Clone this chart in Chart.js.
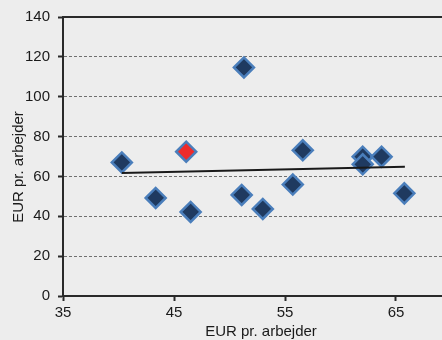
<!DOCTYPE html>
<html>
<head>
<meta charset="utf-8">
<script src="https://cdn.jsdelivr.net/npm/chart.js@4/dist/chart.umd.min.js"></script>
<style>
html,body{margin:0;padding:0;background:#ededed;overflow:hidden;}
#wrap{width:442px;height:340px;}
</style>
</head>
<body>
<div id="wrap"><canvas id="c" width="442" height="340"></canvas></div>
<script>
// Data
const xValues = [40.3, 43.35, 46.5, 51.1, 51.3, 53.0, 55.7, 56.6, 62.0, 62.0, 63.7, 65.75];
const yValues = [67.0, 49.2, 42.2, 50.7, 114.7, 43.7, 55.9, 73.1, 69.9, 66.1, 69.9, 51.5];
const highlightX = [46.1];
const highlightY = [72.4];
const trendX = [40.3, 65.8];
const trendY = [61.7, 64.9];
const xTicks = [35, 45, 55, 65];
const yTicks = [0, 20, 40, 60, 80, 100, 120, 140];
const xTitle = 'EUR pr. arbejder';
const yTitle = 'EUR pr. arbejder';

const toPts = (xs, ys) => xs.map((x, i) => ({x: x, y: ys[i]}));
const FONT = '"Liberation Sans", Arial, sans-serif';

const extras = {
  id: 'extras',
  afterDraw(chart) {
    const {ctx, chartArea} = chart;
    ctx.save();
    ctx.strokeStyle = '#2a2a2a';
    ctx.lineWidth = 2;
    ctx.beginPath();
    ctx.moveTo(chartArea.left - 1, chartArea.top);
    ctx.lineTo(chartArea.right, chartArea.top);
    ctx.stroke();
    ctx.fillStyle = '#1a1a1a';
    ctx.font = '15px ' + FONT;
    ctx.textAlign = 'center';
    ctx.textBaseline = 'alphabetic';
    ctx.fillText(xTitle, 261, 336);
    ctx.translate(23, 167);
    ctx.rotate(-Math.PI / 2);
    ctx.fillText(yTitle, 0, 0);
    ctx.restore();
  }
};

new Chart(document.getElementById('c'), {
  type: 'scatter',
  data: {
    datasets: [
      {
        type: 'line',
        data: toPts(trendX, trendY),
        borderColor: '#1a1a1a',
        borderWidth: 2,
        pointRadius: 0,
        fill: false,
        order: 0
      },
      {
        data: toPts(xValues, yValues),
        pointStyle: 'rectRot',
        pointRadius: 10,
        pointBackgroundColor: '#1f3a60',
        pointBorderColor: '#4a7ebb',
        pointBorderWidth: 2.5,
        order: 1
      },
      {
        data: toPts(highlightX, highlightY),
        pointStyle: 'rectRot',
        pointRadius: 10,
        pointBackgroundColor: '#ee2b2b',
        pointBorderColor: '#4a7ebb',
        pointBorderWidth: 2.5,
        order: 1
      }
    ]
  },
  options: {
    responsive: false,
    animation: false,
    layout: {autoPadding: false, padding: {top: 15, right: 0, left: 0, bottom: 0}},
    plugins: {legend: {display: false}, tooltip: {enabled: false}},
    scales: {
      x: {
        type: 'linear',
        min: 35,
        max: 35 + (442 - 63) / 11.1,
        afterBuildTicks: s => { s.ticks = xTicks.map(v => ({value: v})); },
        afterFit: s => { s.height = 44; },
        grid: {drawOnChartArea: false, drawTicks: true, tickLength: 5, tickColor: '#2a2a2a', tickWidth: 2},
        border: {color: '#2a2a2a', width: 2},
        ticks: {color: '#1a1a1a', font: {family: FONT, size: 15}, padding: 3, maxRotation: 0}
      },
      y: {
        min: 0,
        max: 140,
        afterBuildTicks: s => { s.ticks = yTicks.map(v => ({value: v})); },
        afterFit: s => { s.width = 63; },
        grid: {
          color: ctx => (ctx.tick && (ctx.tick.value === 0 || ctx.tick.value === 140)) ? 'rgba(0,0,0,0)' : '#707070',
          lineWidth: 1,
          tickLength: 5, tickColor: '#2a2a2a', tickWidth: 2
        },
        border: {color: '#2a2a2a', width: 2, dash: [3, 2]},
        ticks: {color: '#1a1a1a', font: {family: FONT, size: 15}, padding: 8}
      }
    }
  },
  plugins: [extras]
});
</script>
</body>
</html>
